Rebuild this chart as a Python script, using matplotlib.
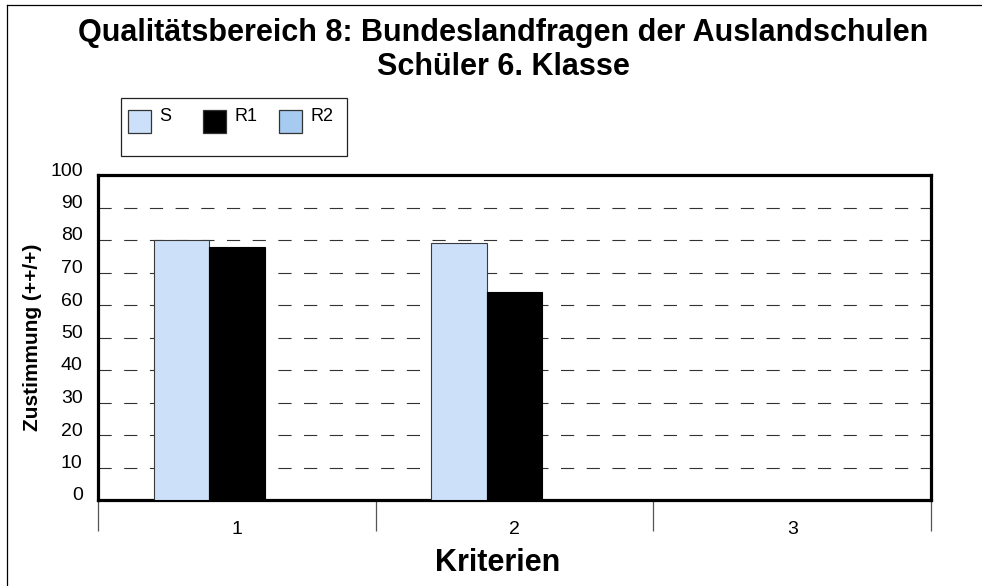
import numpy as np
import matplotlib
matplotlib.use('Agg')
import matplotlib.pyplot as plt
import matplotlib.transforms as mtransforms
from matplotlib.patches import Rectangle
from matplotlib.lines import Line2D

plt.rcParams['font.family'] = ['Liberation Sans', 'DejaVu Sans']
plt.rcParams['lines.scale_dashes'] = False

# Chart data
categories = ['1', '2', '3']
series_names = ['S', 'R1', 'R2']
series_colors = ['#cce0fa', '#000000', '#a6caf0']
values_s = [80, 79, np.nan]
values_r1 = [78, 64, np.nan]
values_r2 = [np.nan, np.nan, np.nan]
y_ticks = [0, 10, 20, 30, 40, 50, 60, 70, 80, 90, 100]

W, H = 982, 586
fig = plt.figure(figsize=(W / 100, H / 100), dpi=100)
ax = fig.add_axes([98 / W, 1 - 500 / H, 833 / W, 325 / H])

# three series per category, R2 has no values but keeps its slot
x = np.arange(len(categories)) + 0.5
bar_w = 0.2
all_values = [values_s, values_r1, values_r2]
edge_colors = ['#3a3a3a', '#000000', '#3a3a3a']
for i, (vals, col, ec) in enumerate(zip(all_values, series_colors, edge_colors)):
    ax.bar(x + (i - 1) * bar_w, vals, bar_w, color=col,
           edgecolor=ec, linewidth=0.8, zorder=3)

ax.set_xlim(0, len(categories))
ax.set_ylim(0, 100)

# dashed gridlines
for yv in y_ticks[1:-1]:
    ax.axhline(yv, color='#333333', linewidth=0.8, linestyle=(0, (9.5, 9)), zorder=1)

for sp in ax.spines.values():
    sp.set_linewidth(2.3)
    sp.set_color('black')

ax.set_yticks(y_ticks)
ax.set_yticklabels([str(v) for v in y_ticks], fontsize=14)
ax.tick_params(axis='y', length=0, pad=11)
shift = mtransforms.ScaledTranslation(0, 6 / 100, fig.dpi_scale_trans)
for lbl in ax.get_yticklabels():
    lbl.set_transform(lbl.get_transform() + shift)

ax.set_xticks(x)
ax.set_xticklabels(categories, fontsize=14)
ax.set_xticks(np.arange(len(categories) + 1), minor=True)
ax.tick_params(axis='x', which='major', length=0, pad=15)
ax.tick_params(axis='x', which='minor', length=22, width=0.9, color='#555555', direction='out')

ax.set_ylabel('Zustimmung (++/+)', fontsize=15, fontweight='bold', labelpad=0)
ax.yaxis.set_label_coords(-56 / 833, 0.5)
fig.text(498 / W, 1 - 563 / H, 'Kriterien', fontsize=22, fontweight='bold',
         ha='center', va='center')

fig.text(503 / W, 1 - 33 / H, 'Qualitätsbereich 8: Bundeslandfragen der Auslandschulen',
         fontsize=22, fontweight='bold', ha='center', va='center')
fig.text(503 / W, 1 - 67 / H, 'Schüler 6. Klasse',
         fontsize=22, fontweight='bold', ha='center', va='center')

# legend box
fig.patches.append(Rectangle((121 / W, 1 - 156 / H), 226 / W, 58 / H,
                             transform=fig.transFigure, facecolor='white',
                             edgecolor='#222222', linewidth=0.9))
leg_x = [128, 203, 279]
for name, col, lx in zip(series_names, series_colors, leg_x):
    fig.patches.append(Rectangle((lx / W, 1 - 133 / H), 23 / W, 23 / H,
                                 transform=fig.transFigure, facecolor=col,
                                 edgecolor='#333333', linewidth=0.9))
    fig.text((lx + 31) / W, 1 - 116 / H, name, fontsize=13, ha='left', va='center')

# chart area border
fig.lines.append(Line2D([7 / W, 7 / W], [0, 1 - 5 / H], transform=fig.transFigure,
                        color='black', linewidth=0.9))
fig.lines.append(Line2D([7 / W, 1], [1 - 5 / H, 1 - 5 / H], transform=fig.transFigure,
                        color='black', linewidth=0.9))

fig.savefig('out.png', dpi=100)
